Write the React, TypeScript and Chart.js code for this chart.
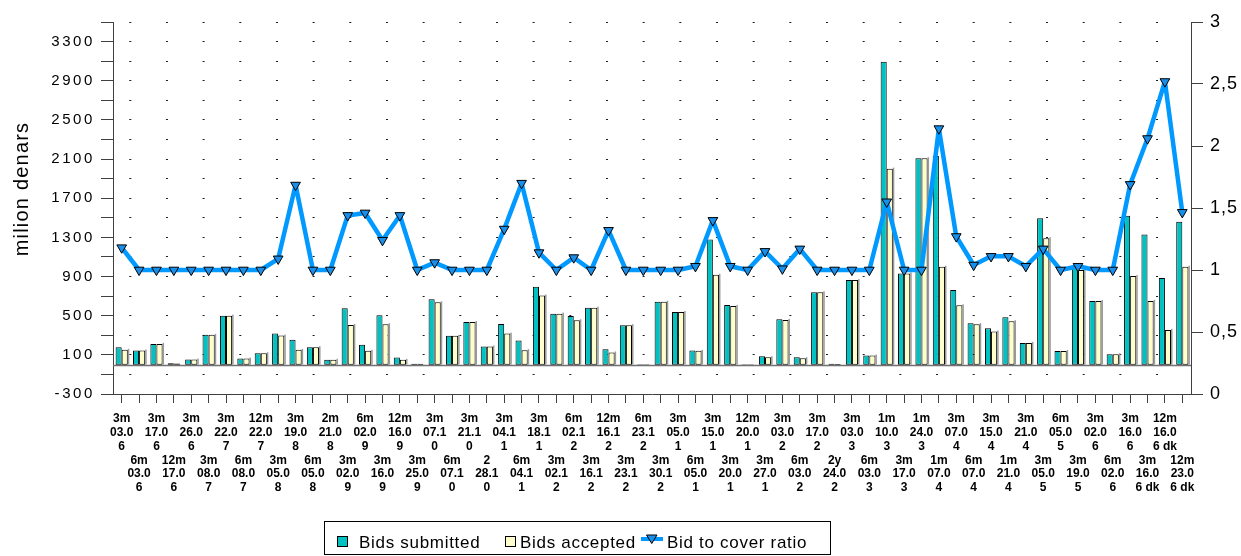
import React, { useEffect, useRef } from 'react';
import { Chart, registerables } from 'chart.js';

Chart.register(...registerables);

// ---------- data ----------
const CATEGORIES: string[] = [
  '3m 03.06', '6m 03.06', '3m 17.06', '12m 17.06', '3m 26.06', '3m 08.07', '3m 22.07', '6m 08.07',
  '12m 22.07', '3m 05.08', '3m 19.08', '6m 05.08', '2m 21.08', '3m 02.09', '6m 02.09', '3m 16.09',
  '12m 16.09', '3m 25.09', '3m 07.10', '6m 07.10', '3m 21.10', '2 28.10', '3m 04.11', '6m 04.11',
  '3m 18.11', '3m 02.12', '6m 02.12', '3m 16.12', '12m 16.12', '3m 23.12', '6m 23.12', '3m 30.12',
  '3m 05.01', '6m 05.01', '3m 15.01', '3m 20.01', '12m 20.01', '3m 27.01', '3m 03.02', '6m 03.02',
  '3m 17.02', '2y 24.02', '3m 03.03', '6m 03.03', '1m 10.03', '3m 17.03', '1m 24.03', '1m 07.04',
  '3m 07.04', '6m 07.04', '3m 15.04', '1m 21.04', '3m 21.04', '3m 05.05', '6m 05.05', '3m 19.05',
  '3m 02.06', '6m 02.06', '3m 16.06', '3m 16.06 dk', '12m 16.06 dk', '12m 23.06 dk',
];

const BIDS_SUBMITTED: number[] = [
  178, 144, 212, 15, 52, 304, 500, 62, 117, 317, 253, 178, 49, 576, 202, 504,
  73, 10, 667, 294, 436, 185, 416, 246, 796, 521, 497, 582, 158, 403, 4, 643,
  538, 144, 1279, 610, 5, 86, 464, 76, 739, 8, 864, 93, 3093, 932, 2108, 2131,
  762, 423, 372, 484, 222, 1496, 138, 1000, 650, 107, 1520, 1330, 885, 1459,
];

const BIDS_ACCEPTED: number[] = [
  151, 144, 212, 12, 52, 304, 500, 62, 117, 297, 151, 178, 49, 406, 141, 413,
  49, 8, 637, 294, 436, 185, 317, 148, 705, 521, 453, 582, 124, 403, 3, 643,
  538, 141, 918, 599, 4, 76, 457, 66, 739, 6, 864, 93, 2002, 932, 2108, 1000,
  606, 413, 338, 443, 222, 1292, 138, 966, 650, 107, 905, 650, 355, 1000,
];

const BID_TO_COVER: number[] = [
  1.18, 1.0, 1.0, 1.0, 1.0, 1.0, 1.0, 1.0, 1.0, 1.09, 1.685, 1.0, 1.0, 1.44, 1.46, 1.24,
  1.44, 1.0, 1.06, 1.0, 1.0, 1.0, 1.33, 1.7, 1.14, 1.0, 1.1, 1.0, 1.32, 1.0, 1.0, 1.0,
  1.0, 1.03, 1.4, 1.03, 1.0, 1.15, 1.01, 1.17, 1.0, 1.0, 1.0, 1.0, 1.55, 1.0, 1.0, 2.14,
  1.27, 1.04, 1.11, 1.11, 1.03, 1.17, 1.0, 1.03, 1.0, 1.0, 1.69, 2.06, 2.52, 1.465,
];

const LEFT_TICK_LABELS: number[] = [-300, 100, 500, 900, 1300, 1700, 2100, 2500, 2900, 3300];
const SERIES_NAMES: string[] = ['Bids submitted', 'Bids accepted', 'Bid to cover ratio'];
const Y_TITLE = 'milion denars';

// ---------- styles ----------
const FONT = '"Liberation Sans", Arial, Helvetica, sans-serif';
const TEAL = '#00C2C2';
const CREAM = '#FFFFCC';
const LINE_BLUE = '#0099FF';
const MARKER_BLUE = '#1A8FEA';
const AXIS_GREY = '#404040';

function splitLabel(s: string, i: number): string[] {
  const parts = s.split(' ');
  const tenor = parts[0];
  const date = parts[1];
  const suffix = parts.slice(2).join(' ');
  const lines = [tenor, date.slice(0, 4), date.slice(4) + (suffix ? ' ' + suffix : '')];
  return i % 2 === 0 ? lines : ['', '', '', ...lines];
}

const LETTER_SPACING: Record<string, string> = { y: '2.6px', y1: '1px', x: '0px' };

const decorPlugin = {
  id: 'decor',
  beforeDraw(chart: any) {
    for (const id of Object.keys(LETTER_SPACING)) {
      const s = chart.scales[id];
      if (!s || s.__patched) continue;
      const orig = s.drawLabels;
      s.drawLabels = function (area: any) {
        const c = this.ctx;
        const prev = c.letterSpacing;
        c.letterSpacing = LETTER_SPACING[id];
        orig.call(this, area);
        c.letterSpacing = prev || '0px';
      };
      s.__patched = true;
    }
  },
  beforeDatasetsDraw(chart: any) {
    const { ctx, chartArea, scales } = chart;
    const y0 = Math.round(scales.y.getPixelForValue(0)) + 0.5;
    ctx.save();
    ctx.strokeStyle = '#707070';
    ctx.lineWidth = 1.5;
    ctx.beginPath();
    ctx.moveTo(chartArea.left, y0);
    ctx.lineTo(chartArea.right, y0);
    ctx.stroke();
    ctx.restore();
  },
  beforeDatasetDraw(chart: any, args: any) {
    // soft grey shadow at the right of the accepted bars
    if (args.index !== 2) return;
    const { ctx } = chart;
    ctx.save();
    ctx.fillStyle = '#9a9a9a';
    for (const el of args.meta.data) {
      const h = el.base - el.y;
      if (h < 2) continue;
      ctx.fillRect(el.x + el.width / 2, el.y - 1, 1.5, h + 1);
    }
    ctx.restore();
  },
  afterDraw(chart: any) {
    const { ctx } = chart;
    ctx.save();
    // y-axis title
    ctx.translate(22.5, 189);
    ctx.rotate(-Math.PI / 2);
    ctx.font = `20px ${FONT}`;
    ctx.letterSpacing = '1.2px';
    ctx.fillStyle = '#000';
    ctx.textAlign = 'center';
    ctx.textBaseline = 'middle';
    ctx.fillText(Y_TITLE, 0, 0);
    ctx.restore();

    // legend
    ctx.save();
    ctx.strokeStyle = '#000';
    ctx.lineWidth = 1;
    ctx.strokeRect(324.5, 521.5, 506, 33);
    ctx.fillStyle = TEAL;
    ctx.fillRect(337.5, 536.5, 10, 10);
    ctx.strokeRect(337.5, 536.5, 10, 10);
    ctx.fillStyle = CREAM;
    ctx.fillRect(505.5, 536.5, 10, 10);
    ctx.strokeRect(505.5, 536.5, 10, 10);
    ctx.strokeStyle = LINE_BLUE;
    ctx.lineWidth = 4;
    ctx.beginPath();
    ctx.moveTo(641, 539);
    ctx.lineTo(663, 539);
    ctx.stroke();
    ctx.beginPath();
    ctx.moveTo(646.5, 535);
    ctx.lineTo(657, 535);
    ctx.lineTo(651.75, 543.5);
    ctx.closePath();
    ctx.fillStyle = MARKER_BLUE;
    ctx.fill();
    ctx.strokeStyle = '#000';
    ctx.lineWidth = 1;
    ctx.stroke();
    ctx.font = `17px ${FONT}`;
    ctx.letterSpacing = '0.7px';
    ctx.fillStyle = '#000';
    ctx.textBaseline = 'alphabetic';
    ctx.textAlign = 'left';
    ctx.fillText(SERIES_NAMES[0], 359, 547.5);
    ctx.fillText(SERIES_NAMES[1], 520, 547.5);
    ctx.fillText(SERIES_NAMES[2], 667, 547.5);
    ctx.restore();
  },
};

export default function App() {
  const ref = useRef<HTMLCanvasElement | null>(null);

  useEffect(() => {
    if (!ref.current) return;
    const labels = CATEGORIES.map((c, i) => splitLabel(c, i));
    const chart = new Chart(ref.current, {
      type: 'bar',
      data: {
        labels,
        datasets: [
          {
            type: 'line',
            label: SERIES_NAMES[2],
            data: BID_TO_COVER,
            yAxisID: 'y1',
            borderColor: LINE_BLUE,
            borderWidth: 4.5,
            borderJoinStyle: 'round',
            borderCapStyle: 'round',
            tension: 0,
            pointStyle: 'triangle',
            pointRotation: 180,
            pointRadius: 5.6,
            pointBackgroundColor: MARKER_BLUE,
            pointBorderColor: '#000',
            pointBorderWidth: 1,
            order: 0,
          } as any,
          {
            label: SERIES_NAMES[0],
            data: BIDS_SUBMITTED,
            yAxisID: 'y',
            backgroundColor: TEAL,
            borderColor: '#000',
            borderWidth: 1,
            borderSkipped: false,
            categoryPercentage: 0.7,
            barPercentage: 1.0,
            order: 1,
          },
          {
            label: SERIES_NAMES[1],
            data: BIDS_ACCEPTED,
            yAxisID: 'y',
            backgroundColor: CREAM,
            borderColor: '#000',
            borderWidth: 1,
            borderSkipped: false,
            categoryPercentage: 0.7,
            barPercentage: 1.0,
            order: 2,
          },
        ],
      },
      options: {
        responsive: false,
        animation: false,
        devicePixelRatio: 1,
        layout: { padding: { top: 22, bottom: 32, left: 0, right: 0 } },
        plugins: {
          legend: { display: false },
          tooltip: { enabled: false },
        },
        scales: {
          x: {
            type: 'category',
            offset: true,
            grid: {
              offset: false,
              drawOnChartArea: false,
              drawTicks: true,
              tickLength: 9,
              tickColor: AXIS_GREY,
              tickWidth: 1,
            },
            border: { display: true, color: AXIS_GREY, width: 1 },
            ticks: {
              autoSkip: false,
              maxRotation: 0,
              minRotation: 0,
              padding: 9,
              color: '#000',
              font: { family: FONT, size: 12, weight: 'bold', lineHeight: '13.8px' } as any,
            },
            afterFit: (s: any) => {
              s.height = 130;
            },
          },
          y: {
            type: 'linear',
            position: 'left',
            min: -300,
            max: 3500,
            grid: {
              color: '#1a1a1a',
              lineWidth: 1,
              drawTicks: true,
              tickLength: 12,
              tickColor: AXIS_GREY,
              tickWidth: 1,
              tickBorderDash: [],
              tickBorderDashOffset: 0,
            } as any,
            border: { display: true, color: AXIS_GREY, width: 1, dash: [2, 34.67], dashOffset: 21.4 },
            ticks: {
              stepSize: 200,
              maxTicksLimit: 100,
              autoSkip: false,
              padding: 6,
              color: '#000',
              font: { family: FONT, size: 15 },
              callback: (v: any) => (LEFT_TICK_LABELS.includes(Number(v)) ? String(v) : ''),
            },
            afterFit: (s: any) => {
              s.width = 113;
            },
          },
          y1: {
            type: 'linear',
            position: 'right',
            min: 0,
            max: 3,
            grid: {
              drawOnChartArea: false,
              drawTicks: true,
              tickLength: 12,
              tickColor: AXIS_GREY,
              tickWidth: 1,
            },
            border: { display: true, color: AXIS_GREY, width: 1 },
            ticks: {
              stepSize: 0.5,
              autoSkip: false,
              padding: 7,
              color: '#000',
              font: { family: FONT, size: 18 },
              callback: (v: any) => String(v).replace('.', ','),
            },
            afterFit: (s: any) => {
              s.width = 50;
            },
          },
        },
      } as any,
      plugins: [decorPlugin as any],
    });
    return () => chart.destroy();
  }, []);

  return (
    <div style={{ position: 'absolute', left: 0, top: 0, width: 1241, height: 556, background: '#fff' }}>
      <canvas ref={ref} width={1241} height={556} style={{ width: 1241, height: 556, display: 'block' }} />
    </div>
  );
}
